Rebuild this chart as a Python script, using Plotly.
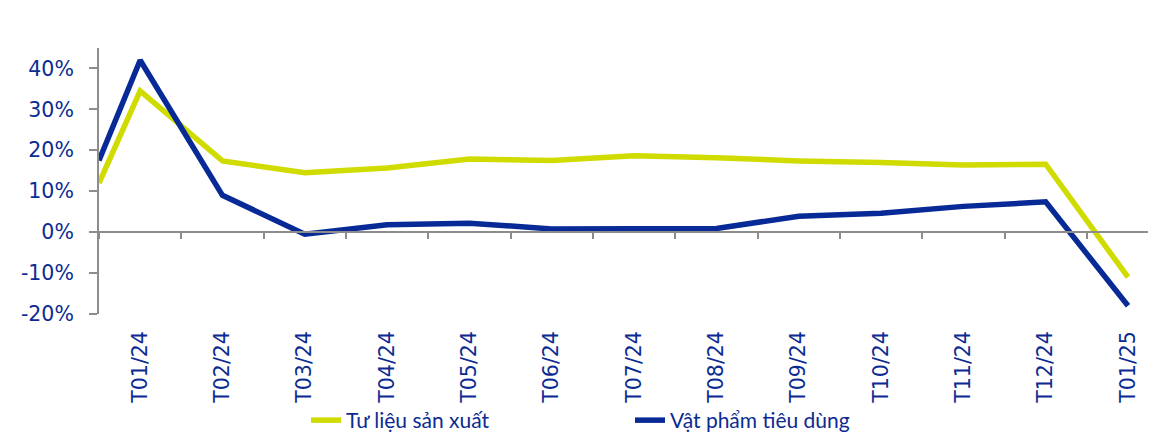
import plotly.graph_objects as go

categories = ["T01/24", "T02/24", "T03/24", "T04/24", "T05/24", "T06/24", "T07/24",
              "T08/24", "T09/24", "T10/24", "T11/24", "T12/24", "T01/25"]
# value at the left edge of the plot (line enters from the previous month)
edge_tlsx = 12.0
edge_vptd = 17.5
tu_lieu_san_xuat = [34.5, 17.4, 14.5, 15.7, 17.9, 17.5, 18.7, 18.2, 17.4, 17.0, 16.4, 16.6, -11.0]
vat_pham_tieu_dung = [42.0, 9.0, -0.5, 1.8, 2.2, 0.8, 1.0, 0.9, 3.9, 4.6, 6.3, 7.4, -18.0]
y_ticks = [-20, -10, 0, 10, 20, 30, 40]

YELLOW = "#D0DB00"
NAVY = "#082A96"
TEXT = "#0B2B92"
AXIS = "#8C8C8C"
TICK_FONT = "DejaVu Sans"
LEG_FONT = "Lato"

idx = list(range(len(categories)))
x_line = [-0.5] + idx

fig = go.Figure()
fig.add_trace(go.Scatter(x=x_line, y=[edge_tlsx] + tu_lieu_san_xuat, mode="lines",
                         name="Tư liệu sản xuất",
                         line=dict(color=YELLOW, width=5.5)))
fig.add_trace(go.Scatter(x=x_line, y=[edge_vptd] + vat_pham_tieu_dung, mode="lines",
                         name="Vật phẩm tiêu dùng",
                         line=dict(color=NAVY, width=5.5)))
# invisible trace to activate the tick axis at zero
fig.add_trace(go.Scatter(x=[None], y=[None], xaxis="x2", showlegend=False, hoverinfo="skip"))

ymin, ymax = -20, 45
xr = [-0.5, 12.34]
H = 424
# page body has an 8px margin: figure is shifted by 8px right/down
fig.update_layout(
    width=1148, height=H,
    margin=dict(l=91, r=0, t=40, b=118, autoexpand=False),
    paper_bgcolor="white", plot_bgcolor="white",
    font=dict(family=TICK_FONT, color=TEXT, size=20),
    showlegend=True,
    legend=dict(orientation="h", x=(306 - 99) / 1057, xanchor="left",
                yref="container", y=(H - (400 - 8)) / H, yanchor="top",
                font=dict(size=21, color=TEXT, family=LEG_FONT),
                entrywidth=279, entrywidthmode="pixels",
                bgcolor="rgba(0,0,0,0)"),
    xaxis=dict(range=xr, tickvals=idx, ticktext=categories, tickangle=-90,
               showline=False, showgrid=False, zeroline=False, ticks="",
               ticklabelstandoff=12, automargin=False,
               tickfont=dict(size=20.5, color=TEXT, family=TICK_FONT)),
    xaxis2=dict(range=xr, overlaying="x", anchor="free", position=(0 - ymin) / (ymax - ymin),
                tickvals=[i + 0.5 for i in [-1] + idx], showticklabels=False,
                showline=True, linecolor=AXIS, linewidth=2,
                ticks="outside", ticklen=6, tickcolor=AXIS, tickwidth=2,
                showgrid=False, zeroline=False),
    yaxis=dict(range=[ymin, ymax], tickvals=y_ticks,
               ticktext=[f"{v}%" for v in y_ticks],
               showline=True, linecolor=AXIS, linewidth=2,
               ticks="outside", ticklen=8, tickcolor=AXIS, tickwidth=2,
               ticklabelstandoff=11, automargin=False,
               showgrid=False, zeroline=False,
               tickfont=dict(size=20.5, color=TEXT, family=TICK_FONT)),
)

fig.write_html("out.html")
